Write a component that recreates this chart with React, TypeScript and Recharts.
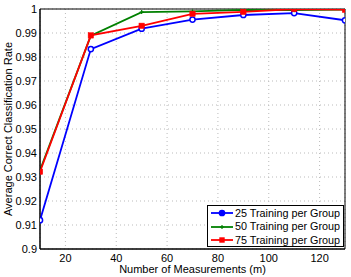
import React from 'react';
import { LineChart, Line, XAxis, YAxis, CartesianGrid, ReferenceArea, Label } from 'recharts';

const measurements = [10, 30, 50, 70, 90, 110, 130];
const train25 = [0.912, 0.9833, 0.9918, 0.9956, 0.9975, 0.9983, 0.9953];
const train50 = [0.9328, 0.9889, 0.9987, 0.999, 0.9996, 0.9995, 0.9998];
const train75 = [0.9322, 0.989, 0.993, 0.998, 0.9988, 1.0, 0.9997];
const xTicks = [20, 40, 60, 80, 100, 120];
const yTicks = [0.9, 0.91, 0.92, 0.93, 0.94, 0.95, 0.96, 0.97, 0.98, 0.99, 1];
const seriesNames = ['25 Training per Group', '50 Training per Group', '75 Training per Group'];
const colors = ['#0000ff', '#008000', '#ff0000'];

const data = measurements.map((m, i) => ({ m, a: train25[i], b: train50[i], c: train75[i] }));

const FONT = '"Liberation Sans", Arial, sans-serif';

const CircleDot = (props: any) => {
  const { cx, cy, stroke } = props;
  if (cx == null || cy == null) return null;
  return <circle cx={cx} cy={cy} r={2.6} stroke={stroke} strokeWidth={1.5} fill="#fff" />;
};
const PlusDot = (props: any) => {
  const { cx, cy, stroke } = props;
  if (cx == null || cy == null) return null;
  return <path d={`M${cx - 2},${cy}H${cx + 2}M${cx},${cy - 2}V${cy + 2}`} stroke={stroke} strokeWidth={1.2} fill="none" />;
};
const SquareDot = (props: any) => {
  const { cx, cy, stroke } = props;
  if (cx == null || cy == null) return null;
  return <rect x={cx - 2.7} y={cy - 2.7} width={5.4} height={5.4} fill={stroke} stroke={stroke} strokeWidth={0.5} />;
};

const markerFor = (i: number, cx: number, cy: number) => {
  if (i === 0) return <circle cx={cx} cy={cy} r={2.6} stroke={colors[0]} strokeWidth={1.5} fill={colors[0]} />;
  if (i === 1) return <path d={`M${cx - 2},${cy}H${cx + 2}M${cx},${cy - 2}V${cy + 2}`} stroke={colors[1]} strokeWidth={1.2} />;
  return <rect x={cx - 2.7} y={cy - 2.7} width={5.4} height={5.4} fill={colors[2]} />;
};

const LegendBox = () => (
  <div style={{ position: 'absolute', left: 207, top: 205, border: '1px solid #000', background: '#fff', width: 137, height: 42, boxSizing: 'border-box', padding: '0.5px 0 0 3px', fontFamily: FONT, fontSize: 10.8, color: '#000' }}>
    {seriesNames.map((n, i) => (
      <div key={n} style={{ display: 'flex', alignItems: 'center', height: 13.5 }}>
        <svg width={22} height={10} style={{ marginRight: 2, flex: 'none' }}>
          <line x1={0} y1={5} x2={22} y2={5} stroke={colors[i]} strokeWidth={1.8} />
          {markerFor(i, 11, 5)}
        </svg>
        <span style={{ whiteSpace: 'nowrap', lineHeight: '13px' }}>{n}</span>
      </div>
    ))}
  </div>
);

export default function App() {
  return (
    <div style={{ position: 'absolute', left: 0, top: 0, width: 351, height: 277, background: '#fff' }}>
      <LineChart width={351} height={277} data={data} margin={{ top: 9, right: 6, bottom: 0, left: 0 }}>
        <CartesianGrid stroke="#bbbbbb" strokeDasharray="1 3" />
        <XAxis dataKey="m" type="number" domain={[10, 130]} ticks={xTicks} height={28} tickLine={false} tickSize={0} tickMargin={5}
          axisLine={{ stroke: '#000' }} tick={{ fontSize: 11, fill: '#000', fontFamily: FONT }} allowDataOverflow>
          <Label value="Number of Measurements (m)" position="insideBottom" offset={4} style={{ fontSize: 11, fill: '#000', fontFamily: FONT }} />
        </XAxis>
        <YAxis type="number" domain={[0.9, 1]} ticks={yTicks} width={40} tickLine={false} tickSize={0} tickMargin={3}
          axisLine={{ stroke: '#000' }} tick={{ fontSize: 11, fill: '#000', fontFamily: FONT }} allowDataOverflow
          tickFormatter={(v: number) => String(Number(v.toFixed(2)))}>
          <Label value="Average Correct Classification Rate" angle={-90} position="center" dx={-12} style={{ fontSize: 11, fill: '#000', fontFamily: FONT, textAnchor: 'middle' }} />
        </YAxis>
        <ReferenceArea x1={10} x2={130} y1={0.9} y2={1} stroke="#000" strokeWidth={1} fill="none" fillOpacity={0} />
        <Line dataKey="a" name={seriesNames[0]} stroke={colors[0]} strokeWidth={1.8} dot={<CircleDot />} isAnimationActive={false} />
        <Line dataKey="b" name={seriesNames[1]} stroke={colors[1]} strokeWidth={1.8} dot={<PlusDot />} isAnimationActive={false} />
        <Line dataKey="c" name={seriesNames[2]} stroke={colors[2]} strokeWidth={1.8} dot={<SquareDot />} isAnimationActive={false} />
      </LineChart>
      <LegendBox />
    </div>
  );
}
